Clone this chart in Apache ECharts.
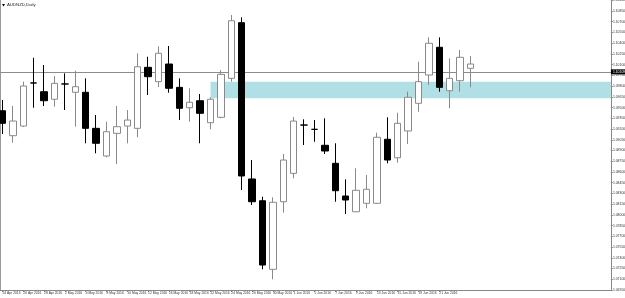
<!DOCTYPE html>
<html><head><meta charset="utf-8">
<script src="https://cdn.jsdelivr.net/npm/echarts@6/dist/echarts.min.js"></script>
<style>html,body{margin:0;padding:0;background:#fff}#c{width:625px;height:298px}</style>
</head><body><div id="c"></div>
<script>
// ---- data ----
const dates = ['24 Apr 2016','25 Apr 2016','26 Apr 2016','27 Apr 2016','28 Apr 2016',
 '1 May 2016','2 May 2016','3 May 2016','4 May 2016','5 May 2016',
 '8 May 2016','9 May 2016','10 May 2016','11 May 2016','12 May 2016',
 '15 May 2016','16 May 2016','17 May 2016','18 May 2016','19 May 2016',
 '22 May 2016','23 May 2016','24 May 2016','25 May 2016','26 May 2016',
 '29 May 2016','30 May 2016','31 May 2016','1 Jun 2016','2 Jun 2016',
 '5 Jun 2016','6 Jun 2016','7 Jun 2016','8 Jun 2016','9 Jun 2016',
 '12 Jun 2016','13 Jun 2016','14 Jun 2016','15 Jun 2016','16 Jun 2016',
 '19 Jun 2016','20 Jun 2016','21 Jun 2016','22 Jun 2016','23 Jun 2016',
 '26 Jun 2016'];
const openP  = [1.09456,1.09107,1.09242,1.09844,1.09722,1.09616,1.09830,1.09714,1.09714,1.09210,
 1.08823,1.09140,1.09242,1.09210,1.10063,1.09862,1.10109,1.09783,1.09498,1.09596,
 1.09289,1.09364,1.09909,1.10687,1.08502,1.08198,1.07239,1.08184,1.08581,1.09256,
 1.09196,1.08973,1.08721,1.08264,1.08044,1.08162,1.08162,1.09057,1.08799,1.09173,
 1.09560,1.09955,1.10343,1.09736,1.09876,1.10049];
const closeP = [1.09280,1.09312,1.09802,1.09844,1.09596,1.09839,1.09830,1.09792,1.09210,1.09001,
 1.09163,1.09233,1.09326,1.10071,1.09932,1.10259,1.09770,1.09490,1.09574,1.09420,
 1.09616,1.09965,1.10714,1.08544,1.08184,1.07299,1.08176,1.08767,1.09312,1.09256,
 1.09196,1.08893,1.08338,1.08208,1.08344,1.08358,1.09085,1.08767,1.09280,1.09644,
 1.09862,1.10399,1.09783,1.09909,1.10203,1.10109];
const lowP   = [1.09131,1.09009,1.09228,1.09498,1.09522,1.09512,1.09466,1.09233,1.09001,1.08861,
 1.08805,1.08711,1.09001,1.09085,1.09676,1.09788,1.09708,1.09326,1.09303,1.09001,
 1.09196,1.09350,1.09862,1.08348,1.08138,1.07239,1.07100,1.08031,1.08511,1.08977,
 1.09023,1.08851,1.08184,1.08012,1.08040,1.08092,1.08155,1.08721,1.08729,1.08991,
 1.09442,1.09816,1.09722,1.09490,1.09722,1.09783];
const highP  = [1.09606,1.09522,1.09862,1.10197,1.10095,1.09941,1.09979,1.10016,1.09909,1.09396,
 1.09303,1.09522,1.09466,1.10259,1.10211,1.10357,1.10361,1.09909,1.09770,1.09690,
 1.09644,1.10025,1.10794,1.10762,1.08767,1.08254,1.08246,1.08851,1.09368,1.09336,
 1.09326,1.09350,1.09001,1.08497,1.08651,1.08558,1.09149,1.09364,1.09428,1.09722,
 1.10141,1.10482,1.10482,1.10189,1.10305,1.10221];
const futureSlots = 13;
const currentPrice = 1.10109;
const zoneTop = 1.09862, zoneBottom = 1.09630, zoneStartIndex = 20;
const yMin = 1.0695, yMax = 1.1115, yStep = 0.0015;
const title = 'AUDNZD,Daily';

// ---- build ----
const cats = dates.concat(Array.from({length: futureSlots}, (_, i) => 'future' + i));
const ohlc = dates.map((d, i) => [openP[i], closeP[i], lowP[i], highP[i]]);
const showIdx = (i) => i < dates.length && i % 2 === 0;
const FONT = 'Liberation Sans, Arial, sans-serif';

const chart = echarts.init(document.getElementById('c'), null, {renderer: 'canvas'});
chart.setOption({
  animation: false,
  backgroundColor: '#fff',
  grid: {left: -2.7, top: -10.44, width: 613.6, height: 300.44, show: false,
    containLabel: false, outerBoundsMode: 'none'},
  graphic: [
    {type: 'line', shape: {x1: 0.5, y1: 0, x2: 0.5, y2: 290}, style: {stroke: '#999', lineWidth: 1}},
    {type: 'polygon', shape: {points: [[2,4],[5,4],[3.5,6.5]]}, style: {fill: '#000'}},
    {type: 'text', left: 7, top: 2.5, style: {text: title, fontSize: 4.3, fill: '#222', fontFamily: FONT}}
  ],
  xAxis: {
    type: 'category', data: cats, boundaryGap: true,
    axisLine: {lineStyle: {color: '#888', width: 1}},
    axisTick: {show: true, alignWithLabel: true, interval: (i) => showIdx(i), length: 2, lineStyle: {color: '#888'}},
    axisLabel: {interval: (i) => showIdx(i), align: 'left', margin: 2, fontSize: 3.3, color: '#333', fontFamily: FONT,
      hideOverlap: false, showMinLabel: true, showMaxLabel: false,
      formatter: (v, i) => (i < dates.length ? v : '')},
    splitLine: {show: false}
  },
  yAxis: {
    type: 'value', position: 'right', min: yMin, max: yMax, interval: yStep,
    axisLine: {show: true, lineStyle: {color: '#888', width: 1}},
    axisTick: {show: true, length: 2, lineStyle: {color: '#888'}},
    axisLabel: {formatter: (v) => v.toFixed(5), fontSize: 3.4, color: '#333', margin: 2, align: 'left',
      fontFamily: FONT, hideOverlap: false},
    splitLine: {show: false}
  },
  series: [{
    type: 'candlestick', data: ohlc, barWidth: 7, z: 2,
    itemStyle: {color: '#ffffff', color0: '#000000', borderColor: '#8a8a8a', borderColor0: '#000000',
      borderColorDoji: '#000000', borderWidth: 1},
    markArea: {silent: true, z: 0, itemStyle: {color: '#b0e0e6', opacity: 1},
      data: [[{xAxis: dates[zoneStartIndex], yAxis: zoneTop}, {yAxis: zoneBottom}]]},
    markLine: {silent: true, z: 1, symbol: 'none', animation: false,
      lineStyle: {color: '#8c8c8c', width: 1, type: 'solid'},
      label: {show: true, position: 'end', distance: 0, formatter: currentPrice.toFixed(5),
        backgroundColor: '#000', color: '#fff', fontSize: 3.4, padding: [1, 2], fontFamily: FONT},
      data: [{yAxis: currentPrice}]}
  }]
});
</script></body></html>
